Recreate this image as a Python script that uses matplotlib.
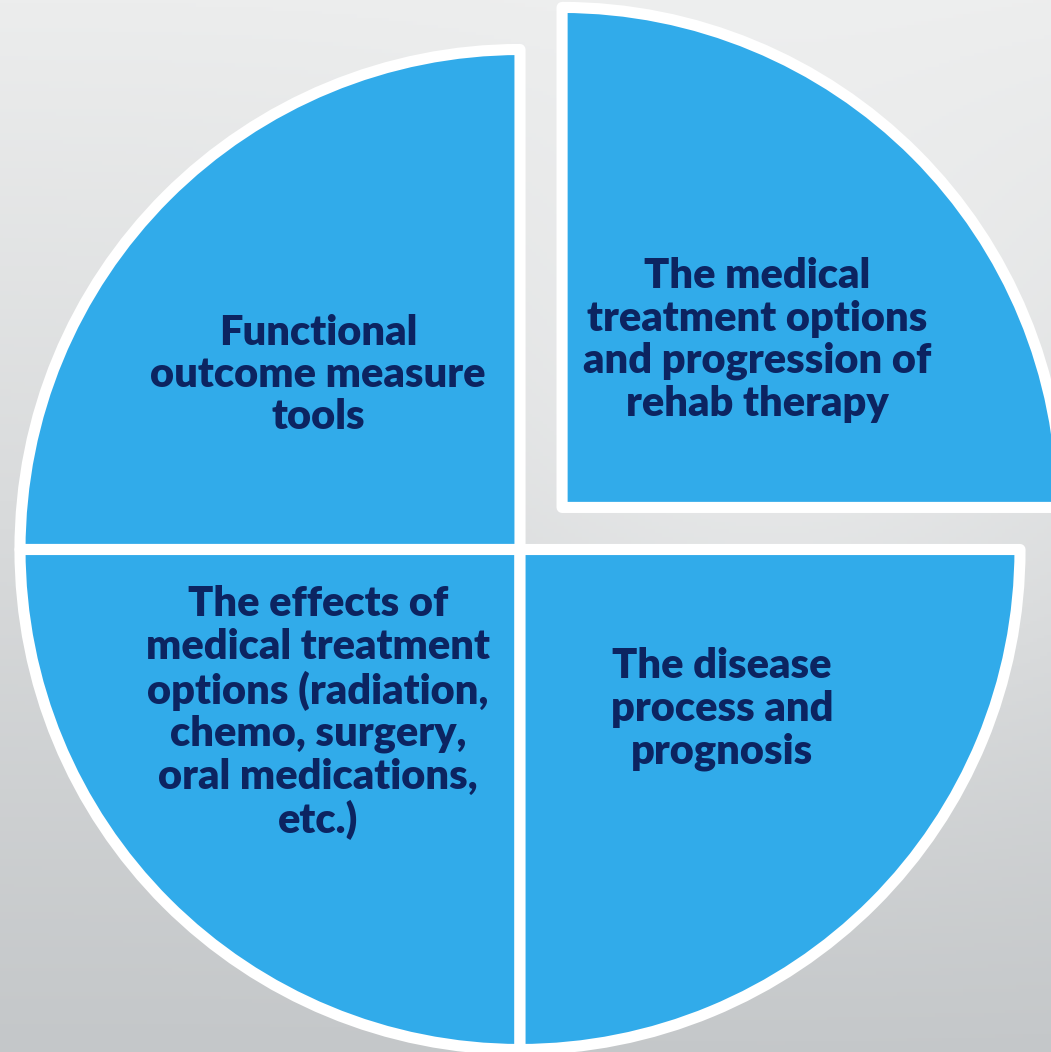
import numpy as np
import matplotlib.pyplot as plt
from matplotlib.colors import to_rgb

# four equal topics, the first one pulled out of the pie
topics = [
    "The medical\ntreatment options\nand progression of\nrehab therapy",
    "Functional\noutcome measure\ntools",
    "The effects of\nmedical treatment\noptions (radiation,\nchemo, surgery,\noral medications,\netc.)",
    "The disease\nprocess and\nprognosis",
]
shares = [1, 1, 1, 1]
pulled = [0.119, 0, 0, 0]

blue = "#31abea"
navy = "#0c2461"

fig = plt.figure(figsize=(10.51, 10.52), dpi=100)
ax = fig.add_axes([0, 0, 1, 1])

# grey backdrop, darker towards the bottom with a soft light spot up right
xmin, xmax = -1.04, 1.062
ymin, ymax = -1.005, 1.099
gx, gy = np.meshgrid(np.linspace(xmin, xmax, 300), np.linspace(ymax, ymin, 300))
t = (ymax - gy) / (ymax - ymin)
top = np.array(to_rgb("#eceded"))
bot = np.array(to_rgb("#c4c7c9"))
bg = top[None, None, :] * (1 - t[..., None]) + bot[None, None, :] * t[..., None]
glow = np.exp(-((gx - 0.5) ** 2 + (gy - 0.3) ** 2) / 0.5)
bg = bg + (1 - bg) * 0.35 * glow[..., None]
ax.imshow(np.clip(bg, 0, 1), extent=[xmin, xmax, ymin, ymax], aspect="auto", zorder=0)

wedges, _ = ax.pie(shares, radius=1, center=(0, 0), startangle=0, counterclock=True,
                   explode=pulled, colors=[blue] * 4,
                   wedgeprops=dict(edgecolor="white", linewidth=8, joinstyle="round"))
for w in wedges:
    w.set_zorder(2)

spots = [(0.474, 0.419), (-0.404, 0.349), (-0.404, -0.327), (0.404, -0.319)]
for txt, (x, y) in zip(topics, spots):
    ax.text(x, y, txt, ha="center", va="center", fontsize=30, fontweight="heavy",
            family="Lato", color=navy, linespacing=1.14, zorder=3)

ax.set_xlim(xmin, xmax)
ax.set_ylim(ymin, ymax)
ax.set_aspect("auto")
ax.axis("off")
fig.savefig("out.png", dpi=100)
